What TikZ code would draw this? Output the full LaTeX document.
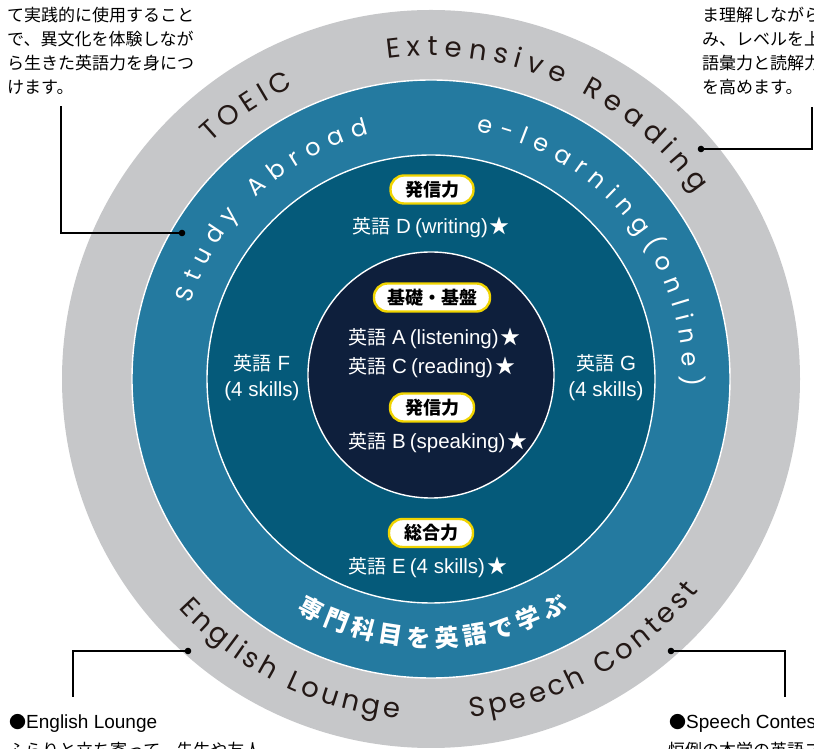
\documentclass[tikz,border=0pt]{standalone}
\usepackage{fontspec}
\setmainfont{Noto Sans CJK JP}
\newfontfamily\jp{Noto Sans CJK JP}
\newfontfamily\geo{Poppins}
\newfontfamily\lat{Liberation Sans}
\usetikzlibrary{calc}

\definecolor{ringgray}{HTML}{C6C7C9}
\definecolor{ringblue}{HTML}{247AA0}
\definecolor{ringteal}{HTML}{055A7A}
\definecolor{ringnavy}{HTML}{0E1F3C}
\definecolor{pillyellow}{HTML}{F0D400}
\definecolor{darktext}{HTML}{231815}

\newcommand\gfont{\geo\fontsize{27.5pt}{27.5pt}\selectfont}
\newcommand\bfont{\geo\fontsize{24pt}{24pt}\selectfont}
\newcommand\jfont{\jp\bfseries\fontsize{24pt}{24pt}\selectfont}
\newcommand\spc{\hspace*{0.28em}}
\newsavebox\arcbox

% #1 centre, #2 baseline radius, #3 start angle, #4 dir (1 cw, -1 ccw),
% #5 tracking, #6 font, #7 colour, #8 list of characters
\newcommand\arctext[8]{%
  \xdef\arcang{#3}%
  \foreach \ch in {#8}{%
    \pgfinterruptpicture\global\sbox\arcbox{#6\ch}\endpgfinterruptpicture
    \pgfmathsetmacro\chw{\wd\arcbox}%
    \pgfmathsetmacro\dang{(\chw+#5)/#2*57.29578}%
    \pgfmathsetmacro\midang{\arcang-#4*\dang/2}%
    \pgfmathsetmacro\rot{\midang-#4*90}%
    \path (#1) ++(\midang:#2pt) node[rotate=\rot,anchor=base,inner sep=0pt,outer sep=0pt,text=#7] {#6\ch};%
    \pgfmathsetmacro\nextang{\arcang-#4*\dang}%
    \xdef\arcang{\nextang}%
  }%
}

\tikzset{
  ring/.style={circle, inner sep=0pt, draw=white, line width=1.4pt},
  pill/.style={draw=pillyellow, line width=2.4pt, fill=white, rounded corners=13.5pt,
    minimum height=28pt, inner sep=0pt, text=black,
    font=\jp\bfseries\fontsize{18pt}{18pt}\selectfont},
  ctext/.style={text=white, inner sep=0pt, font=\jp\fontsize{19pt}{26pt}\selectfont},
  note/.style={text=black, inner sep=0pt, anchor=west, font=\jp\fontsize{17pt}{20pt}\selectfont},
  leader/.style={draw=black, line width=1.1pt},
  dot/.style={fill=black},
}
\newcommand\lt{\lat\fontsize{20.5pt}{26pt}\selectfont}
\newcommand\eg[2]{英語\kern6pt{\lt #1\kern4pt(#2)\kern2pt}{\fontsize{20pt}{26pt}\selectfont★}}

\begin{document}
\begin{tikzpicture}[x=1pt,y=1pt]
\useasboundingbox (0,0) rectangle (814,749);
\coordinate (C) at (431,370);
\coordinate (Cn) at (431,374);

% rings
\node[circle, inner sep=0pt, fill=ringgray, minimum size=738pt] (gray) at (C) {};
\node[ring, fill=ringblue, minimum size=598pt] (blue) at (C) {};
\node[ring, fill=ringteal, minimum size=448pt] (teal) at (C) {};
\node[ring, fill=ringnavy, minimum size=246pt] (navy) at (Cn) {};

% curved texts, outer ring
\arctext{C}{323}{133.5}{1}{5.5}{\gfont}{darktext}{T,O,E,I,C}
\arctext{C}{323}{98.4}{1}{6.7}{\gfont}{darktext}{E,x,t,e,n,s,i,v,e,\spc,R,e,a,d,i,n,g}
\arctext{C}{341}{221.9}{-1}{3.8}{\gfont}{darktext}{E,n,g,l,i,s,h,\spc,L,o,u,n,g,e}
\arctext{C}{341}{276.3}{-1}{3.8}{\gfont}{darktext}{S,p,e,e,c,h,\spc,C,o,n,t,e,s,t}
% curved texts, blue ring
\arctext{C}{252}{163.6}{1}{8.5}{\bfont}{white}{S,t,u,d,y,\spc,A,b,r,o,a,d}
\arctext{C}{252}{80.5}{1}{8}{\bfont}{white}{e,-,l,e,a,r,n,i,n,g,{(},o,n,l,i,n,e,{)}}
\arctext{C}{268}{239.4}{-1}{5}{\jfont}{white}{専,門,科,目,を,英,語,で,学,ぶ}

% centre labels
\node[pill, minimum width=83pt] (pD) at (432,559.5) {発信力};
\node[ctext, anchor=west] (tD) at (352,522) {\eg{D}{writing}};
\node[pill, minimum width=116pt] (pBase) at (432,451.5) {基礎・基盤};
\node[ctext, anchor=west] (tA) at (348,411) {\eg{A}{listening}};
\node[ctext, anchor=west] (tC) at (348,382) {\eg{C}{reading}};
\node[pill, minimum width=84pt] (pB) at (432,341.5) {発信力};
\node[ctext, anchor=west] (tB) at (348,307) {\eg{B}{speaking}};
\node[pill, minimum width=84pt] (pE) at (431,216) {総合力};
\node[ctext, anchor=west] (tE) at (348,182) {\eg{E}{4 skills}};
\node[ctext, align=center] (tF) at (262,371) {英語\kern6pt{\lt F}\\{\lt (4 skills)}};
\node[ctext, align=center] (tG) at (606,371) {英語\kern6pt{\lt G}\\{\lt (4 skills)}};

% notes
\node[note] (tl1) at (7,734) {て実践的に使用すること};
\node[note] (tl2) at (7,710) {で、異文化を体験しなが};
\node[note] (tl3) at (7,686) {ら生きた英語力を身につ};
\node[note] (tl4) at (7,662) {けます。};
\node[note] (tr1) at (702,734) {ま理解しながら};
\node[note] (tr2) at (702,710) {み、レベルを上};
\node[note] (tr3) at (702,686) {語彙力と読解力};
\node[note] (tr4) at (702,662) {を高めます。};
\node[note] (bl1) at (9,26) {●{\lat\fontsize{19pt}{20pt}\selectfont English Lounge}};
\node[note] (bl2) at (8,-1) {ふらりと立ち寄って、先生や友人};
\node[note] (br1) at (669,26) {●{\lat\fontsize{19pt}{20pt}\selectfont Speech Contest}};
\node[note] (br2) at (668,-1) {恒例の本学の英語ス};

% leaders
\coordinate (dTL) at (182,516);
\coordinate (kTL) at (61,516);
\coordinate (eTL) at (61,643);
\draw[leader] (dTL) -- (kTL) -- (eTL);
\fill[dot] (dTL) circle (3.3pt);

\coordinate (dTR) at (701,600);
\coordinate (kTR) at (812,600);
\coordinate (eTR) at (812,642);
\draw[leader] (dTR) -- (kTR) -- (eTR);
\fill[dot] (dTR) circle (3.3pt);

\coordinate (dBL) at (188,98);
\coordinate (kBL) at (73,98);
\coordinate (eBL) at (73,52);
\draw[leader] (dBL) -- (kBL) -- (eBL);
\fill[dot] (dBL) circle (3.3pt);

\coordinate (dBR) at (671,98);
\coordinate (kBR) at (785,98);
\coordinate (eBR) at (785,52);
\draw[leader] (dBR) -- (kBR) -- (eBR);
\fill[dot] (dBR) circle (3.3pt);
\end{tikzpicture}
\end{document}
